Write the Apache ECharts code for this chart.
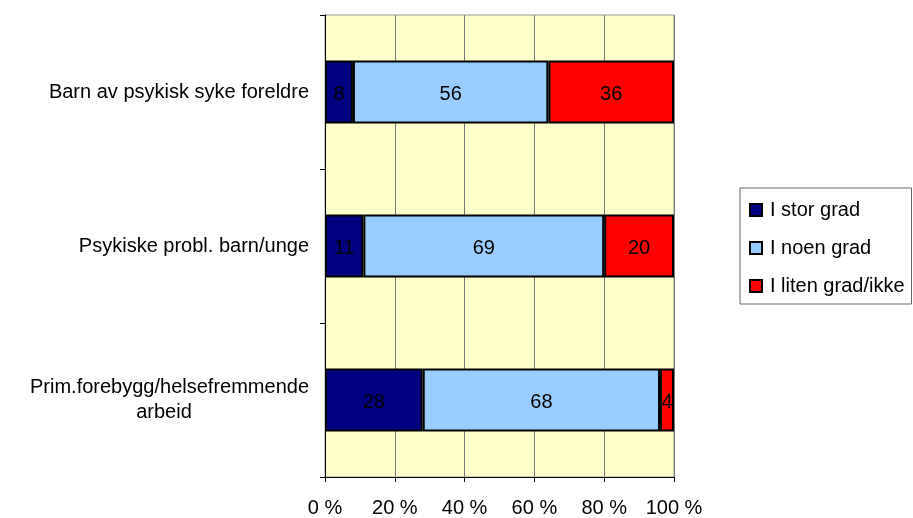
<!DOCTYPE html>
<html>
<head>
<meta charset="utf-8">
<script src="https://cdn.jsdelivr.net/npm/echarts@6/dist/echarts.min.js"></script>
<style>
  html, body { margin: 0; padding: 0; background: #fff; }
  #chart { width: 913px; height: 518px; }
</style>
</head>
<body>
<div id="chart"></div>
<script>
// bottom-to-top order for the category axis
const categories = [
  'Prim.forebygg/helsefremmende\narbeid',
  'Psykiske probl. barn/unge',
  'Barn av psykisk syke foreldre'
]
const storGrad = [28, 11, 8]
const noenGrad = [68, 69, 56]
const litenGrad = [4, 20, 36]
const seriesNames = ['I stor grad', 'I noen grad', 'I liten grad/ikke']
const seriesColors = ['#000080', '#99CCFF', '#FF0000']

const font = '"Liberation Sans", Arial, sans-serif'
const fs = 20

function barSeries(name, data, color) {
  return {
    name,
    type: 'bar',
    stack: 'total',
    barWidth: '41%',
    data,
    itemStyle: { color, borderColor: '#000', borderWidth: 2 },
    label: {
      show: true,
      position: 'inside',
      color: '#000',
      fontFamily: font,
      fontSize: fs,
      offset: [0, 2],
    },
    emphasis: { disabled: true },
  }
}

const chart = echarts.init(document.getElementById('chart'))
chart.setOption({
  animation: false,
  backgroundColor: '#fff',
  grid: {
    left: 325,
    right: 239,
    top: 15,
    bottom: 40,
    show: true,
    backgroundColor: '#FFFFCC',
    borderColor: '#999',
    borderWidth: 1,
  },
  legend: {
    orient: 'vertical',
    left: 740,
    top: 188,
    padding: [12, 7, 8, 9],
    itemGap: 18,
    itemWidth: 12,
    itemHeight: 12,
    icon: 'rect',
    borderColor: '#666',
    borderWidth: 1,
    textStyle: { color: '#000', fontFamily: font, fontSize: fs, padding: [0, 0, 0, 3] },
    data: seriesNames,
  },
  xAxis: {
    type: 'value',
    min: 0,
    max: 100,
    interval: 20,
    axisLine: { show: true, lineStyle: { color: '#000', width: 1 } },
    axisTick: { show: true, length: 5, lineStyle: { color: '#000' } },
    axisLabel: {
      formatter: '{value} %',
      color: '#000',
      fontFamily: font,
      fontSize: fs,
      margin: 21,
    },
    splitLine: { show: true, lineStyle: { color: '#777', width: 1 } },
  },
  yAxis: {
    type: 'category',
    data: categories,
    axisLine: { show: true, lineStyle: { color: '#000', width: 1 } },
    axisTick: { show: true, length: 5, lineStyle: { color: '#000' } },
    axisLabel: {
      color: '#000',
      fontFamily: font,
      fontSize: fs,
      margin: 16,
      lineHeight: 25,
      formatter: (v) => {
        const parts = v.split('\n')
        if (parts.length === 1) return v
        return '{a|' + parts[0] + '}\n{b|' + parts[1] + '}'
      },
      rich: {
        a: { fontFamily: font, fontSize: fs, color: '#000', lineHeight: 25 },
        b: { fontFamily: font, fontSize: fs, color: '#000', lineHeight: 25, width: 290, align: 'center' },
      },
    },
    splitLine: { show: false },
  },
  series: [
    barSeries(seriesNames[0], storGrad, seriesColors[0]),
    barSeries(seriesNames[1], noenGrad, seriesColors[1]),
    barSeries(seriesNames[2], litenGrad, seriesColors[2]),
  ],
})
</script>
</body>
</html>
